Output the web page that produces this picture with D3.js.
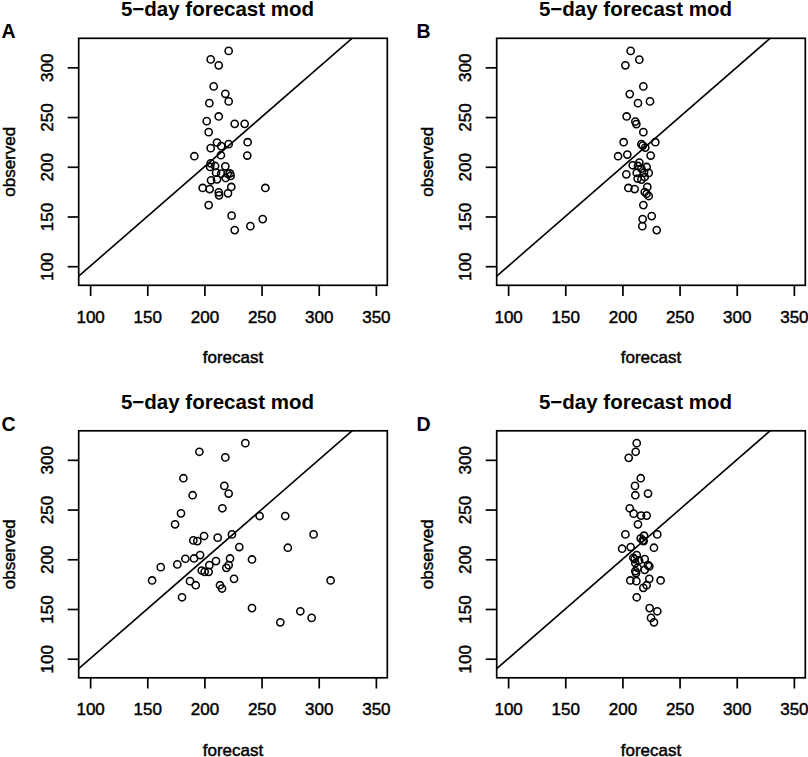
<!DOCTYPE html>
<html>
<head>
<meta charset="utf-8">
<script src="https://cdnjs.cloudflare.com/ajax/libs/d3/7.8.5/d3.min.js"></script>
<style>
	body { margin: 0; background: #fff; }
	text { font-family: "Liberation Sans", Arial, Helvetica, sans-serif; }
</style>
</head>
<body>
<script>

// values (forecast vs observed)
var forecastA = [221.2,205.5,212.5,208.1,218.3,221.2,204.3,212.5,202,226.5,235.2,203.7,211,221.2,237.8,214.7,205.5,214.4,237.5,191.2,205.5,205,209.3,218.3,210.2,214.7,220.3,222.4,222.9,218.6,205.8,211,223.5,198.5,204.6,253.3,212.5,220.6,212.8,203.7,223.8,251,240.2,226.5]
var observedA = [316.5,308,302,280.8,273.4,265.7,264,250.6,245.9,243.2,243.2,234.8,224.4,222.7,224.7,220.7,218.7,211.6,211.3,210.6,203.5,199.8,200.8,200.5,194.1,193.1,193.1,193.4,190.8,188.7,186.4,187.4,179.7,178.7,177.6,178.7,174.3,173.3,171.3,161.5,150.8,147.4,140.3,136.3]

var forecastB = [207.2,214.8,202.6,218.3,206.4,224.1,213.6,203.7,211.3,212.2,218.3,201.1,228.8,216.6,217.8,220,204.3,224.7,196.2,214.8,209,213.6,221.2,216.6,212.5,218.9,223,203.4,213.3,216.6,219.5,221.8,205.2,210.7,219.5,221.2,223,218.3,225.6,217.7,217.4,230]
var observedB = [316.5,307.7,302,280.8,273.1,265.7,264,250.6,245.5,242.9,234.8,224.7,224.7,222.7,221.3,219.3,212.3,211.3,210.6,204.2,201.5,200.8,199.8,198.2,193.8,194.1,193.8,192.4,188.1,187.1,189.7,179.7,178.7,177.6,174.6,172.9,170.6,161.5,150.4,147.4,140.3,136.3]

var forecastC = [235.8,195.6,218.3,181.6,217.4,221.2,189.7,215.7,179.5,248.3,270.7,174.3,295.5,224.1,199.7,211.6,190.3,193.8,230.5,273,196.2,183.3,190.9,222.4,241.6,210.1,176.3,204.3,221.2,161.8,219.2,197.6,200.2,203.7,154.2,310.4,187.4,225.9,192.4,213.6,215.4,180.4,241.6,283.9,293.8,266.4]
var observedC = [316.8,308.1,302.4,281.5,273.8,266.1,264.4,251.3,246.2,243.5,243.5,235.1,225,225,223.4,221.7,219,218.3,212.3,211.6,204.2,200.5,200.8,200.8,199.8,198.2,194.8,194.1,194.1,192.1,191.4,188.7,187.4,187.4,178.7,178.7,178,180.3,173.9,173.9,170.6,161.8,150.9,147.7,141,136.6]

var forecastD = [212.5,211.6,205.5,216,211,222.4,211.3,206.4,209.8,216.3,221.2,213.6,202.6,230.5,218.9,216,217.8,218.6,199.7,207.2,227.6,212.5,209.6,210.7,219.5,214.5,211.3,222.4,223.5,213.3,219.5,211.3,211.9,223.5,206.9,212.2,233.4,221.2,218.3,212.5,223.8,230.5,225,227.6]
var observedD = [316.8,308.1,302,281.5,273.8,266.1,264.4,251.3,245.9,243.9,243.9,235.1,225,225,223.7,221,219,218.3,210.6,212.3,211.6,204.2,201.5,200.2,200.2,198.8,196.1,194.1,192.8,191.4,189.4,188.1,186.1,180.3,178.7,178,178.7,173.9,171.3,161.8,150.9,147.7,141,136.6]

var panelLetters = ["A", "B", "C", "D"]
var xTicks = [100, 150, 200, 250, 300, 350]
var yTicks = [100, 150, 200, 250, 300]
var title = "5\u2212day forecast mod"

var font = "'Liberation Sans', Arial, Helvetica, sans-serif"

var svg = d3.select("body").append("svg")
	.attr("width", 808)
	.attr("height", 757)

var panels = [
	{fc: forecastA, ob: observedA, col: 0, row: 0},
	{fc: forecastB, ob: observedB, col: 1, row: 0},
	{fc: forecastC, ob: observedC, col: 0, row: 1},
	{fc: forecastD, ob: observedD, col: 1, row: 1}
]

// regular text in the picture is a bit heavier than the plain face
function heavy(sel, w) {
	sel.attr("stroke", "#000").attr("stroke-width", w).attr("fill", "#000")
}

panels.forEach(function(p, i) {

	var g = svg.append("g")
		.attr("transform", "translate(" + (418 * p.col) + "," + (392.5 * p.row) + ")")

	var x = d3.scaleLinear().domain([90, 360]).range([78.7, 387.3])
	var y = d3.scaleLinear().domain([80.8, 329.2]).range([285.3, 38.3])

	//axes
	var xa = g.append("g")
		.attr("transform", "translate(0,285.3)")
		.call(d3.axisBottom(x).tickValues(xTicks).tickSize(10.7).tickPadding(14.6))
	var ya = g.append("g")
		.attr("transform", "translate(78.7,0)")
		.call(d3.axisLeft(y).tickValues(yTicks).tickSize(11))

	;[xa, ya].forEach(function(a) {
		a.attr("font-size", 17).attr("font-family", font)
		a.select(".domain").remove()
		a.selectAll(".tick line").attr("stroke", "#000").attr("stroke-width", 1.7)
		heavy(a.selectAll(".tick text"), 0.45)
	})
	ya.selectAll(".tick text")
		.attr("x", null)
		.attr("dy", null)
		.attr("text-anchor", "middle")
		.attr("transform", "translate(-25.4,0) rotate(-90)")

	//y = x line, clipped to the box
	g.append("clipPath").attr("id", "clip" + i)
		.append("rect")
		.attr("x", 78.7).attr("y", 38.3)
		.attr("width", 308.6).attr("height", 247)

	g.append("line")
		.attr("clip-path", "url(#clip" + i + ")")
		.attr("x1", x(90)).attr("y1", y(90))
		.attr("x2", x(360)).attr("y2", y(360))
		.attr("stroke", "#000")
		.attr("stroke-width", 1.6)

	g.selectAll("circle")
		.data(d3.zip(p.fc, p.ob))
		.enter()
		.append("circle")
		.attr("cx", function(d) { return x(d[0]) })
		.attr("cy", function(d) { return y(d[1]) })
		.attr("r", 3.6)
		.attr("fill", "none")
		.attr("stroke", "#000")
		.attr("stroke-width", 1.55)

	g.append("rect")
		.attr("x", 78.7).attr("y", 38.3)
		.attr("width", 308.6).attr("height", 247)
		.attr("fill", "none")
		.attr("stroke", "#000")
		.attr("stroke-width", 1.7)

	//labels
	g.append("text")
		.attr("x", 217.5).attr("y", 16.3)
		.attr("text-anchor", "middle")
		.attr("font-size", 20.5)
		.attr("font-weight", "bold")
		.text(title)

	g.append("text")
		.attr("x", 1.5 - 3 * p.col).attr("y", 38)
		.attr("font-size", 19.5)
		.attr("font-weight", "bold")
		.text(panelLetters[i])

	heavy(g.append("text")
		.attr("x", 233).attr("y", 363.3)
		.attr("text-anchor", "middle")
		.attr("font-size", 17)
		.text("forecast"), 0.45)

	heavy(g.append("text")
		.attr("transform", "translate(14.7,161.8) rotate(-90)")
		.attr("text-anchor", "middle")
		.attr("font-size", 17)
		.text("observed"), 0.45)
})

</script>
</body>
</html>
